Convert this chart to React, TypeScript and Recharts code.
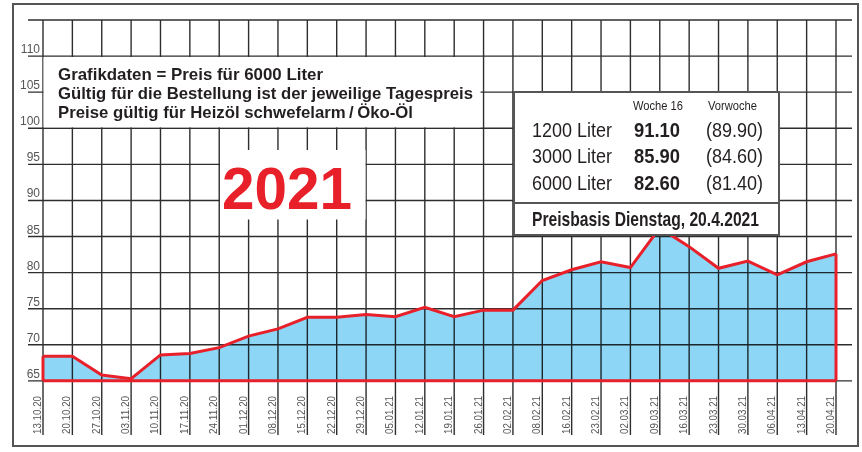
import React from 'react';
import { AreaChart, Area, XAxis, YAxis, CartesianGrid, ReferenceLine } from 'recharts';

const dates = [
  '13.10.20', '20.10.20', '27.10.20', '03.11.20', '10.11.20', '17.11.20', '24.11.20',
  '01.12.20', '08.12.20', '15.12.20', '22.12.20', '29.12.20', '05.01.21', '12.01.21',
  '19.01.21', '26.01.21', '02.02.21', '08.02.21', '16.02.21', '23.02.21', '02.03.21',
  '09.03.21', '16.03.21', '23.03.21', '30.03.21', '06.04.21', '13.04.21', '20.04.21',
];
const prices = [
  68.4, 68.4, 65.8, 65.3, 68.6, 68.8, 69.6,
  71.2, 72.2, 73.8, 73.8, 74.2, 73.9, 75.2,
  73.9, 74.8, 74.8, 78.9, 80.4, 81.5, 80.7,
  86.2, 83.6, 80.6, 81.6, 79.7, 81.5, 82.6,
];
const yTicks = [65, 70, 75, 80, 85, 90, 95, 100, 105, 110, 115];
const baseline = 65;

const infoLines = [
  'Grafikdaten = Preis für 6000 Liter',
  'Gültig für die Bestellung ist der jeweilige Tagespreis',
  'Preise gültig für Heizöl schwefelarm\u2009/\u2009Öko-Öl',
];
const infoLineWidths = [265, 415, 355];
const yearLabel = '2021';
const colHeaders = ['Woche 16', 'Vorwoche'];
const quantities = ['1200 Liter', '3000 Liter', '6000 Liter'];
const currentWeek = ['91.10', '85.90', '82.60'];
const previousWeek = ['(89.90)', '(84.60)', '(81.40)'];
const footerLabel = 'Preisbasis Dienstag, 20.4.2021';

const data = dates.map((d, i) => ({ date: d, price: prices[i] }));

const RED = '#e8202a';
const BLUE = '#8ed6f6';
const GRID = '#2e2e2e';
const FONT = "'Liberation Sans', Arial, Helvetica, sans-serif";

const XTick = (props: any) => {
  const { x, payload } = props;
  return (
    <text
      transform={`translate(${x - 2},434) rotate(-90)`}
      fontSize={11.5}
      fill="#555"
      fontFamily={FONT}
      textLength={38}
      lengthAdjust="spacingAndGlyphs"
    >
      {payload.value}
    </text>
  );
};

const YTick = (props: any) => {
  const { y, payload } = props;
  if (payload.value === 115) return <g />;
  return (
    <text x={40} y={y - 3} textAnchor="end" fontSize={12} fill="#555" fontFamily={FONT}>
      {payload.value}
    </text>
  );
};

const css = `
.price-area .recharts-area-area { mix-blend-mode: multiply; }
`;

export default function App() {
  const last = dates.length - 1;
  return (
    <div style={{ position: 'absolute', left: 0, top: 0, width: 862, height: 452, background: '#fff' }}>
      <style>{css}</style>
      <AreaChart
        width={862}
        height={452}
        data={data}
        margin={{ top: 20, right: 10, bottom: 0, left: 0 }}
      >
        <CartesianGrid stroke={GRID} strokeWidth={1.4} syncWithTicks />
        <XAxis
          dataKey="date"
          height={17}
          padding={{ left: 15, right: 16 }}
          axisLine={false}
          tickLine={false}
          interval={0}
          tick={(p: any) => <XTick {...p} />}
        />
        <YAxis
          width={28}
          domain={[57.5, 115]}
          ticks={yTicks}
          axisLine={false}
          tickLine={false}
          tick={(p: any) => <YTick {...p} />}
          type="number"
        />
        <Area
          className="price-area"
          type="linear"
          dataKey="price"
          baseValue={baseline}
          stroke={RED}
          strokeWidth={3}
          fill={BLUE}
          fillOpacity={1}
          isAnimationActive={false}
          dot={false}
          activeDot={false}
        />
        <ReferenceLine
          segment={[{ x: dates[0], y: baseline }, { x: dates[last], y: baseline }]}
          stroke={RED}
          strokeWidth={3}
        />
        <ReferenceLine
          segment={[{ x: dates[0], y: baseline }, { x: dates[0], y: prices[0] }]}
          stroke={RED}
          strokeWidth={3}
        />
        <ReferenceLine
          segment={[{ x: dates[last], y: baseline }, { x: dates[last], y: prices[last] }]}
          stroke={RED}
          strokeWidth={3}
        />
      </AreaChart>
      <svg
        width={862}
        height={452}
        style={{ position: 'absolute', left: 0, top: 0, pointerEvents: 'none' }}
      >
        <rect x={13} y={4} width={845} height={442} fill="none" stroke="#555" strokeWidth={2} />
        <rect x={43.5} y={57} width={437} height={70.3} fill="#fff" />
        {infoLines.map((t, i) => (
          <text key={t} x={58} y={79.5 + i * 19} fontSize={17} fontWeight="bold" fill="#231f20" fontFamily={FONT} textLength={infoLineWidths[i]} lengthAdjust="spacingAndGlyphs">
            {t}
          </text>
        ))}
        <rect x={220} y={150} width={145.5} height={69.5} fill="#fff" />
        <text x={222} y={209} fontSize={59} fontWeight="bold" fill={RED} fontFamily={FONT} textLength={130} lengthAdjust="spacingAndGlyphs">
          {yearLabel}
        </text>
        <rect x={514} y={92} width={265} height={143} fill="#fff" stroke="#555" strokeWidth={2} />
        <line x1={514} y1={203} x2={779} y2={203} stroke="#555" strokeWidth={2} />
        <text x={633} y={110} fontSize={13} fill="#231f20" fontFamily={FONT} textLength={50} lengthAdjust="spacingAndGlyphs">
          {colHeaders[0]}
        </text>
        <text x={708} y={110} fontSize={13} fill="#231f20" fontFamily={FONT} textLength={49} lengthAdjust="spacingAndGlyphs">
          {colHeaders[1]}
        </text>
        {quantities.map((q, i) => (
          <g key={q}>
            <text x={532} y={137 + i * 26.3} fontSize={21} fill="#231f20" fontFamily={FONT} textLength={80} lengthAdjust="spacingAndGlyphs">
              {q}
            </text>
            <text x={634} y={137 + i * 26.3} fontSize={21} fontWeight="bold" fill="#231f20" fontFamily={FONT} textLength={46} lengthAdjust="spacingAndGlyphs">
              {currentWeek[i]}
            </text>
            <text x={706} y={137 + i * 26.3} fontSize={21} fill="#231f20" fontFamily={FONT} textLength={57} lengthAdjust="spacingAndGlyphs">
              {previousWeek[i]}
            </text>
          </g>
        ))}
        <text x={532} y={226} fontSize={20.5} fontWeight="bold" fill="#231f20" fontFamily={FONT} textLength={227} lengthAdjust="spacingAndGlyphs">
          {footerLabel}
        </text>
      </svg>
    </div>
  );
}
